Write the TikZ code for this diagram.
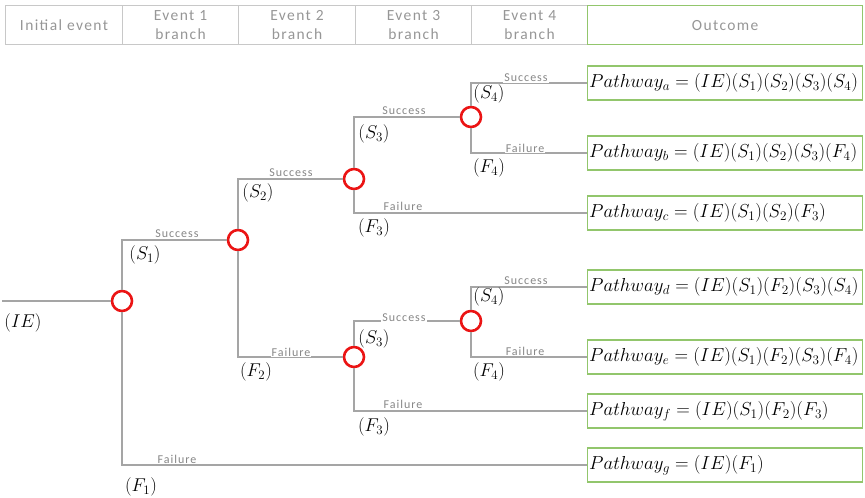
\RequirePackage{fix-cm}
\documentclass[tikz,border=0pt]{standalone}
\usepackage{fontspec}
\newfontfamily\hdrfont[LetterSpace=9]{Carlito}
\newfontfamily\labfont[LetterSpace=8]{Carlito}
\definecolor{linegray}{RGB}{165,165,165}
\definecolor{hdrgray}{RGB}{150,150,150}
\definecolor{labgray}{RGB}{135,135,135}
\definecolor{hdrborder}{RGB}{200,200,200}
\definecolor{boxgreen}{RGB}{146,198,108}
\definecolor{nodered}{RGB}{235,20,20}
\tikzset{
  hdr/.style={draw=hdrborder, line width=1pt, minimum height=39pt, inner sep=0pt, align=center, text=hdrgray, font=\hdrfont\fontsize{15.5}{19}\selectfont, anchor=north west},
  chance/.style={circle, draw=nodered, line width=2.6pt, fill=white, minimum size=20pt, inner sep=0pt},
  conn/.style={draw=linegray, line width=1.8pt},
  lab/.style={fill=white, inner sep=1pt, text=labgray, font=\labfont\fontsize{12}{12}\selectfont},
  mlab/.style={inner sep=0pt, font=\fontsize{18.5}{19}\selectfont},
  outbox/.style={draw=boxgreen, line width=1.4pt, anchor=west, minimum width=275pt, minimum height=34pt, text width=272pt, inner xsep=1.5pt, inner ysep=0pt, align=left, font=\fontsize{18.8}{20}\selectfont}
}
\begin{document}
\begin{tikzpicture}[x=1pt,y=-1pt]
\useasboundingbox (0,0) rectangle (865,498);
% header
\node[hdr, minimum width=117pt] (h0) at (5,5) {Initial event};
\node[hdr, minimum width=116pt] (h1) at (122,5) {Event 1\\branch};
\node[hdr, minimum width=117pt] (h2) at (238,5) {Event 2\\branch};
\node[hdr, minimum width=116pt] (h3) at (355,5) {Event 3\\branch};
\node[hdr, minimum width=116pt] (h4) at (471,5) {Event 4\\branch};
\node[hdr, draw=boxgreen, line width=1.4pt, minimum width=275pt] (h5) at (587,5) {Outcome};
% chance nodes
\coordinate (start) at (2,301);
\node[chance] (c1) at (122,301) {};
\node[chance] (c2) at (238,240) {};
\node[chance] (c3) at (354,179) {};
\node[chance] (c4) at (471,117) {};
\node[chance] (c3b) at (354,357) {};
\node[chance] (c4b) at (471,321) {};
% outcome boxes
\node[outbox] (pa) at (587,83) {$Pathway_a=(IE)(S_1)(S_2)(S_3)(S_4)$};
\node[outbox] (pb) at (587,153) {$Pathway_b=(IE)(S_1)(S_2)(S_3)(F_4)$};
\node[outbox] (pc) at (587,213) {$Pathway_c=(IE)(S_1)(S_2)(F_3)$};
\node[outbox] (pd) at (587,287) {$Pathway_d=(IE)(S_1)(F_2)(S_3)(S_4)$};
\node[outbox] (pe) at (587,357) {$Pathway_e=(IE)(S_1)(F_2)(S_3)(F_4)$};
\node[outbox] (pf) at (587,411) {$Pathway_f=(IE)(S_1)(F_2)(F_3)$};
\node[outbox] (pg) at (587,465) {$Pathway_g=(IE)(F_1)$};
% connectors
\draw[conn] (start) -- (c1);
\draw[conn] (c1) |- (c2);
\draw[conn] (c1) |- (pg.west);
\draw[conn] (c2) |- (c3);
\draw[conn] (c2) |- (c3b);
\draw[conn] (c3) |- (c4);
\draw[conn] (c3) |- (pc.west);
\draw[conn] (c4) |- (pa.west);
\draw[conn] (c4) |- (pb.west);
\draw[conn] (c3b) |- (c4b);
\draw[conn] (c3b) |- (pf.west);
\draw[conn] (c4b) |- (pd.west);
\draw[conn] (c4b) |- (pe.west);
% branch labels
\node[lab] (s1) at (177,234) {Success};
\node[lab] (f1) at (177,459) {Failure};
\node[lab] (s2) at (291,173) {Success};
\node[lab] (f2) at (291,352) {Failure};
\node[lab] (s3) at (404,111) {Success};
\node[lab] (f3) at (403,206) {Failure};
\node[lab] (s4) at (526,78) {Success};
\node[lab] (f4) at (525,148) {Failure};
\node[lab] (s3b) at (404,318) {Success};
\node[lab] (f3b) at (403,404) {Failure};
\node[lab] (s4b) at (526,281) {Success};
\node[lab] (f4b) at (525,351) {Failure};
% math labels
\node[mlab] (mIE) at (23,323) {$(IE)$};
\node[mlab] (mS1) at (145,255) {$(S_1)$};
\node[mlab] (mF1) at (141,487) {$(F_1)$};
\node[mlab] (mS2) at (258,193) {$(S_2)$};
\node[mlab] (mF2) at (256,372) {$(F_2)$};
\node[mlab] (mS3) at (374,134) {$(S_3)$};
\node[mlab] (mF3) at (374,228) {$(F_3)$};
\node[mlab] (mS4) at (489,94) {$(S_4)$};
\node[mlab] (mF4) at (489,168) {$(F_4)$};
\node[mlab] (mS3b) at (374,339) {$(S_3)$};
\node[mlab] (mF3b) at (374,427) {$(F_3)$};
\node[mlab] (mS4b) at (489,297) {$(S_4)$};
\node[mlab] (mF4b) at (489,372) {$(F_4)$};
\end{tikzpicture}
\end{document}
